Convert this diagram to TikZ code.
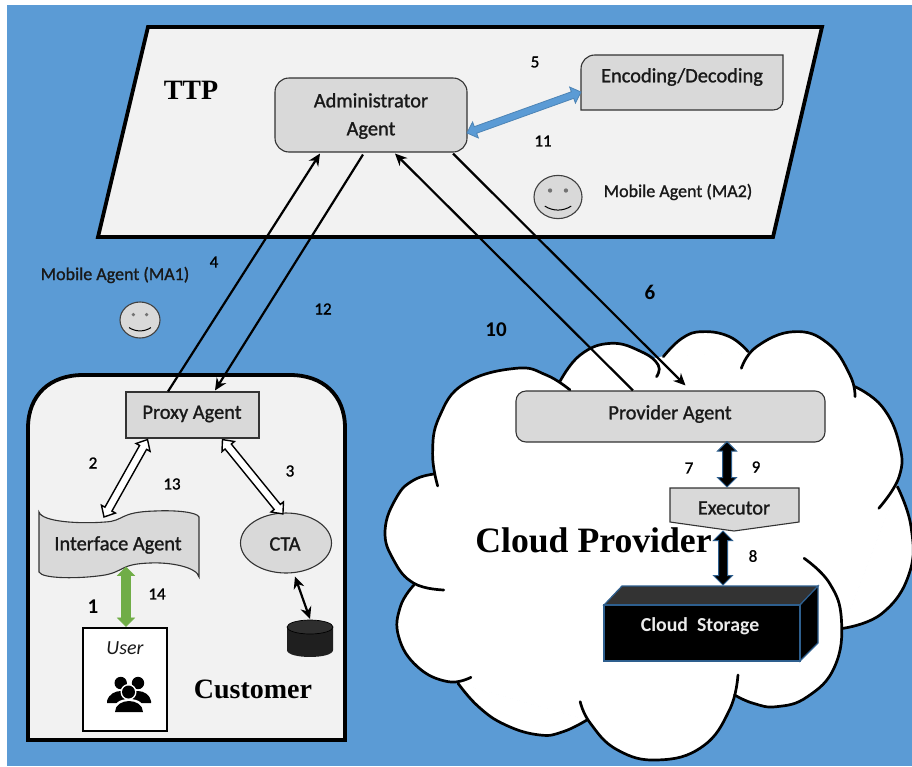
\documentclass[tikz,border=0pt]{standalone}
\usepackage{fontspec}
\setmainfont{Carlito}
\newfontfamily\lblfont{Carlito}[FakeBold=1.2]
\newfontfamily\ttlfont{Liberation Serif}
\usetikzlibrary{arrows.meta,calc,shapes.geometric}
\definecolor{bgblue}{HTML}{5B9BD5}
\definecolor{panel}{HTML}{F2F2F2}
\definecolor{boxgrey}{HTML}{D9D9D9}
\definecolor{edgeblue}{HTML}{2E5F8E}
\definecolor{greenarrow}{HTML}{70AD47}
\tikzset{
  panelline/.style={draw=black,line width=3.8pt,fill=panel,line join=miter},
  greybox/.style={draw=black!80,line width=1.1pt,fill=boxgrey},
  lab/.style={font=\lblfont\fontsize{20.4}{22}\selectfont,text=black!90,inner sep=0pt},
  malab/.style={font=\lblfont\fontsize{18}{20}\selectfont,text=black!90,inner sep=0pt},
  numlab/.style={font=\lblfont\fontsize{17}{18}\selectfont,text=black,inner sep=0pt},
  bignum/.style={font=\fontsize{21}{22}\selectfont\bfseries,text=black,inner sep=0pt},
  title/.style={font=\ttlfont\bfseries\fontsize{28}{30}\selectfont,text=black,inner sep=0pt},
  conn/.style={draw=black,line width=2.2pt,-{Stealth[length=12pt,width=11pt]}},
  fatblue/.style={fill=bgblue,draw=bgblue!85!black,line width=.8pt},
  fatwhite/.style={fill=white,draw=black,line width=1.4pt},
  fatgreen/.style={fill=greenarrow,draw=greenarrow,line width=.6pt},
  fatblack/.style={fill=black,draw=edgeblue,line width=1pt},
  smile/.style={draw=black!75,line width=1.1pt,fill=boxgrey},
  cloudline/.style={draw=black,line width=2.7pt,line cap=round},
  cloudfill/.style={fill=white,draw=white,line width=1pt},
}
% \fat[style]{from}{to}{half shaft}{half head}{head length}
\newcommand{\fat}[6][]{%
  \path let \p1=(#3),\p2=(#2),\n1={atan2(\y1-\y2,\x1-\x2)},\n2={veclen(\x1-\x2,\y1-\y2)} in \pgfextra{\xdef\fatang{\n1}\xdef\fatlen{\n2}};
  \begin{scope}[shift={(#2)},rotate=\fatang]
    \pgfmathsetmacro{\fatend}{\fatlen-#6}
    \draw[#1,line join=miter] (0pt,0pt) -- (#6pt,#5pt) -- (#6pt,#4pt) -- (\fatend pt,#4pt) -- (\fatend pt,#5pt) -- (\fatlen,0pt) -- (\fatend pt,-#5pt) -- (\fatend pt,-#4pt) -- (#6pt,-#4pt) -- (#6pt,-#5pt) -- cycle;
  \end{scope}
}
\newcommand{\smiley}[3]{%
  \draw[smile] (#1,#2) ellipse [x radius=#3,y radius=0.9*#3];
  \fill[black!55] (#1-0.33*#3,#2-0.27*#3) circle [radius=0.09*#3] (#1+0.33*#3,#2-0.27*#3) circle [radius=0.09*#3];
  \draw[black,line width=1pt] (#1-0.55*#3,#2+0.38*#3) .. controls (#1-0.2*#3,#2+0.6*#3) and (#1+0.2*#3,#2+0.6*#3) .. (#1+0.55*#3,#2+0.38*#3);
}
\newcommand{\lobefill}[1]{\path[cloudfill] plot[smooth,tension=.75] coordinates {#1};}
\newcommand{\lobedraw}[1]{\draw[cloudline] plot[smooth,tension=.75] coordinates {#1};}
\newcommand{\alllobes}{%
  \lobe{(530,185) (590,105) (680,70) (770,95) (820,135) (815,170)}
  \lobe{(835,110) (890,55) (950,35) (1030,50) (1085,95)}
  \lobe{(1065,145) (1110,80) (1220,35) (1320,70) (1385,165) (1400,230)}
  \lobe{(1400,200) (1480,260) (1530,370) (1530,470) (1470,565)}
  \lobe{(1525,500) (1565,620) (1560,760) (1480,880) (1365,925)}
  \lobe{(1250,715) (1325,790) (1360,900) (1340,1040) (1260,1130) (1170,1160) (1100,1150) (1045,1125)}
  \lobe{(1055,1065) (1030,1170) (950,1280) (820,1320) (700,1290) (620,1210) (590,1145)}
  \lobe{(610,1200) (540,1235) (470,1245) (370,1215) (290,1160) (230,1090)}
  \lobe{(268,1072) (200,1085) (110,1040) (55,950) (60,860) (100,795)}
  \lobe{(188,810) (100,790) (40,720) (15,630) (50,530) (100,480) (160,462)}
  \lobe{(170,498) (155,400) (175,290) (250,190) (400,145) (490,165) (560,210)}
}
\begin{document}
\begin{tikzpicture}[x=1pt,y=-1pt]
\useasboundingbox (0,0) rectangle (912,766);
\fill[white] (0,0) rectangle (912,766);
\fill[bgblue] (7,5) rectangle (912,766);
% TTP
\draw[panelline] (148,27) -- (822,27) -- (773,237) -- (98,237) -- cycle;
\node[title] (ttp) at (191,90) {TTP};
% Customer
\draw[panelline] (28,740) -- (28,428) .. controls (28,395) and (50,375) .. (83,375) -- (290,375) .. controls (323,375) and (345,395) .. (345,428) -- (345,740) -- cycle;
\node[title] (customer) at (253,689) {Customer};
% Cloud
\begin{scope}[shift={(380,320)},x=0.3393pt,y=-0.3333pt]
  \path[cloudfill] (530,185) -- (835,110) -- (1085,95) -- (1400,200) -- (1525,500) -- (1365,925) -- (1045,1125) -- (610,1200) -- (230,1090) -- (100,795) -- (160,462) -- cycle;
  \let\lobe\lobefill \alllobes
  \let\lobe\lobedraw \alllobes
\end{scope}
% Agents
\node[greybox,rounded corners=14pt,minimum width=192pt,minimum height=74pt,inner sep=0pt] (admin) at (371,115) {};
\node[lab,align=center,font=\lblfont\fontsize{20.4}{28}\selectfont] (admintext) at (371,116) {Administrator\\Agent};
\draw[greybox] (595,55) -- (783,55) -- (783,100) .. controls (783,106) and (779,110) .. (773,110) -- (581,110) -- (581,69) .. controls (581,61) and (587,55) .. (595,55) -- cycle;
\node[lab] (enc) at (682,77) {Encoding/Decoding};
\smiley{558}{197}{24}
\node[malab] (ma2) at (678,192) {Mobile Agent (MA2)};
\node[malab] (ma1) at (115,275) {Mobile Agent (MA1)};
\smiley{140}{320}{20}
\node[draw=black!80,line width=1.1pt,fill=boxgrey,minimum width=133pt,minimum height=46pt,inner sep=0pt] (proxy) at (192.5,415) {};
\node[lab] (proxytext) at (192,414) {Proxy Agent};
\draw[greybox] (39,512) .. controls (42,522) and (80,524) .. (105,522) .. controls (125,521) and (118,512) .. (155,511) .. controls (175,510) and (197,512) .. (199,517) -- (199,577) .. controls (197,567) and (170,562) .. (150,563) .. controls (120,564) and (125,571) .. (105,575) .. controls (80,579) and (42,579) .. (39,572) -- cycle;
\node[lab] (iface) at (118,545) {Interface Agent};
\node[ellipse,draw=black!80,line width=1.1pt,fill=boxgrey,minimum width=91pt,minimum height=60pt,inner sep=0pt] (cta) at (286,543) {};
\node[lab] (ctatext) at (285,544) {CTA};
\node[draw=black,line width=1.1pt,fill=white,minimum width=84pt,minimum height=103pt,inner sep=0pt] (user) at (125,679.5) {};
\node[inner sep=0pt,text=black!90,font=\itshape\fontsize{20}{22}\selectfont] (usertext) at (125,648) {User};
% users icon
\fill[black] (120.7,683) circle [radius=6.2] (138,683) circle [radius=6.2];
\fill[black] (107,701) .. controls (109,694) and (115,691) .. (121,691) -- (138,691) .. controls (144,691) and (150,695) .. (151,701) -- (151,703) -- (107,703) -- cycle;
\fill[white] (128.5,692) circle [radius=8] ;
\fill[white] (113,712) .. controls (113,703) and (120,699) .. (129,699) .. controls (138,699) and (145,703) .. (145,712) -- cycle;
\fill[black] (128.5,692) circle [radius=6.5];
\fill[black] (115,712) .. controls (115,705) and (122,701) .. (129,701) .. controls (136,701) and (143,705) .. (143,712) -- cycle;
% cylinder
\coordinate (cyltop) at (310,619);
\fill[black!88] (287,627) -- (287,650) .. controls (287,659.3) and (333,659.3) .. (333,650) -- (333,627) -- cycle;
\draw[black,fill=black!82,line width=.7pt] (310,627) ellipse [x radius=23,y radius=7];
% Provider
\node[greybox,rounded corners=10pt,minimum width=309pt,minimum height=51pt,inner sep=0pt] (provider) at (670.5,416.5) {};
\node[lab] (providertext) at (670,414) {Provider Agent};
\draw[greybox] (670,488) -- (799,488) -- (799,522) -- (734,531) -- (670,522) -- cycle;
\node[lab] (exec) at (734,508) {Executor};
% Storage
\draw[draw=edgeblue,line width=1.2pt,fill=black!80] (604,605) -- (622,586) -- (818,586) -- (800,605) -- cycle;
\draw[draw=edgeblue,line width=1.2pt,fill=black] (800,605) -- (818,586) -- (818,643) -- (800,661) -- cycle;
\node[draw=edgeblue,line width=1.2pt,fill=black,minimum width=196pt,minimum height=56pt,inner sep=0pt] (storage) at (702,633) {};
\node[inner sep=0pt,font=\fontsize{19.8}{22}\selectfont\bfseries,text=white!92!black] (storagetext) at (700,626) {Cloud\ \ Storage};
\node[title,font=\ttlfont\bfseries\fontsize{35.7}{38}\selectfont] (cloudtitle) at (593.5,540) {Cloud Provider};
% Connectors
\draw[conn] ($(proxy.north)+(-24.5,0)$) -- ($(admin.south)+(-51,1)$);
\draw[conn] ($(admin.south)+(-8,2)$) -- ($(proxy.north)+(22.5,-1)$);
\draw[conn] ($(provider.north)+(-37.5,0)$) -- ($(admin.south)+(24,1)$);
\draw[conn] ($(admin.south)+(82,1)$) -- ($(provider.north)+(15,-5)$);
\coordinate (a5) at (467,133);
\coordinate (b5) at (581,92);
\fat[fatblue]{a5}{b5}{3.5}{8.5}{9}
\coordinate (a2) at ($(proxy.south)+(-45,1)$);
\coordinate (b2) at (104,517);
\fat[fatwhite]{a2}{b2}{4}{8}{9}
\coordinate (a3) at ($(proxy.south)+(30,1)$);
\coordinate (b3) at (283,514);
\fat[fatwhite]{a3}{b3}{4}{8}{9}
\coordinate (a1) at (126,567);
\coordinate (b1) at ($(user.north)+(1,-1)$);
\fat[fatgreen]{a1}{b1}{4.5}{8.5}{8.5}
\coordinate (a7) at ($(provider.south)+(56.5,-1)$);
\coordinate (b7) at (727,487);
\fat[fatblack]{a7}{b7}{4.5}{9.5}{9.5}
\coordinate (a8) at (723,531);
\coordinate (b8) at (723,585);
\fat[fatblack]{a8}{b8}{4.5}{9.5}{9.5}
\draw[black,line width=2.2pt,{Stealth[length=12pt,width=11pt]}-{Stealth[length=12pt,width=11pt]}] ($(cta.south)+(9,3)$) -- (cyltop);
% Numbers
\node[numlab] (n5) at (535,62) {5};
\node[numlab] (n11) at (543,141) {11};
\node[numlab] (n4) at (214,262) {4};
\node[numlab] (n12) at (323,309) {12};
\node[bignum] (n10) at (496,330) {10};
\node[bignum] (n6) at (650,292) {6};
\node[numlab] (n2) at (93,463) {2};
\node[numlab] (n13) at (172,484) {13};
\node[numlab] (n3) at (290,471) {3};
\node[numlab] (n14) at (157,594) {14};
\node[bignum] (n1) at (93,607) {1};
\node[numlab] (n7) at (689,468) {7};
\node[numlab] (n9) at (756,467) {9};
\node[numlab] (n8) at (753,556) {8};
\end{tikzpicture}
\end{document}
